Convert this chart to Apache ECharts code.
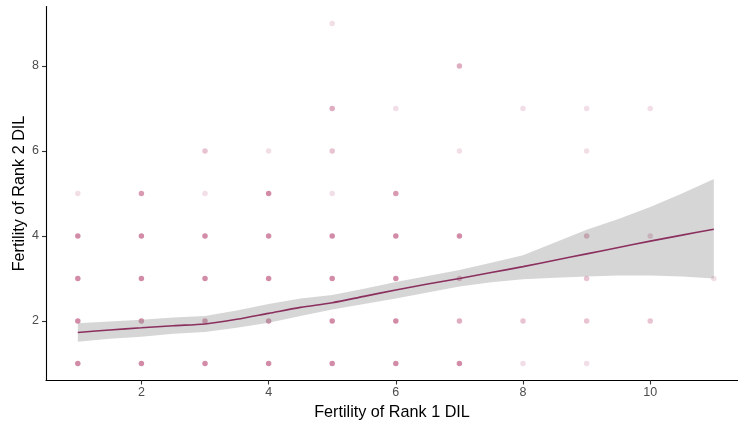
<!DOCTYPE html>
<html>
<head>
<meta charset="utf-8">
<script src="https://cdn.jsdelivr.net/npm/echarts@6/dist/echarts.min.js"></script>
<style>
  html, body { margin: 0; padding: 0; background: #ffffff; }
  #chart { width: 738px; height: 425px; }
</style>
</head>
<body>
<div id="chart"></div>
<script>
// Observed (rank 1, rank 2) fertility pairs; n = how many observations share the spot
const pointX = [1,1,1,1,1, 2,2,2,2,2, 3,3,3,3,3,3, 4,4,4,4,4,4, 5,5,5,5,5,5,5,5, 6,6,6,6,6,6, 7,7,7,7,7,7, 8,8,8, 9,9,9,9,9,9, 10,10,10, 11];
const pointY = [5,4,3,2,1, 5,4,3,2,1, 6,5,4,3,2,1, 6,5,4,3,2,1, 9,7,6,5,4,3,2,1, 7,5,4,3,2,1, 8,6,4,3,2,1, 7,2,1, 7,6,4,3,2,1, 7,4,2, 3];
const pointN = [1,5,5,5,5, 4,5,5,5,5, 2,1,5,5,5,5, 1,5,5,5,5,5, 1,3,2,1,5,5,5,5, 1,4,5,5,5,5, 3,1,5,3,3,5, 1,2,1, 1,1,3,2,2,1, 1,2,2, 1];

// LOESS fit with its 95% confidence band
const fitX     = [1,    1.5,  2,    2.5,  3,    3.5,  4,    4.5,  5,    5.5,  6,    6.5,  7,    7.5,  8,    8.5,  9,    9.5,  10,   10.5, 11];
const fitY     = [1.73, 1.79, 1.84, 1.89, 1.93, 2.04, 2.18, 2.32, 2.43, 2.58, 2.73, 2.87, 3.00, 3.14, 3.28, 3.43, 3.58, 3.73, 3.88, 4.02, 4.16];
const fitLower = [1.51, 1.58, 1.63, 1.70, 1.74, 1.84, 1.96, 2.12, 2.27, 2.40, 2.53, 2.67, 2.81, 2.91, 2.98, 3.02, 3.05, 3.07, 3.07, 3.05, 3.00];
const fitUpper = [1.95, 1.99, 2.03, 2.08, 2.12, 2.25, 2.40, 2.53, 2.61, 2.76, 2.92, 3.06, 3.20, 3.37, 3.55, 3.85, 4.15, 4.40, 4.68, 5.00, 5.34];

const xTicks = [2, 4, 6, 8, 10];
const yTicks = [2, 4, 6, 8];

const POINT_ALPHA = 0.18;
const scatterData = pointX.map((x, i) => ({
  value: [x, pointY[i]],
  itemStyle: { opacity: 1 - Math.pow(1 - POINT_ALPHA, pointN[i]) }
}));

const bandData = fitX.map((x, i) => [x, fitLower[i], fitUpper[i]]);
const lineData = fitX.map((x, i) => [x, fitY[i]]);

const chart = echarts.init(document.getElementById('chart'), null, { renderer: 'canvas' });

const axisText = { color: '#4d4d4d', fontSize: 12.5, fontFamily: 'Liberation Sans, Arial, sans-serif' };
const titleText = { color: '#000000', fontSize: 16.2, fontFamily: 'Liberation Sans, Arial, sans-serif' };

chart.setOption({
  animation: false,
  backgroundColor: '#ffffff',
  grid: { left: 46, right: 0, top: 6.5, bottom: 44.5, containLabel: false, outerBoundsMode: 'none' },
  xAxis: {
    type: 'value',
    min: 0.5,
    max: 11.38,
    name: 'Fertility of Rank 1 DIL',
    nameLocation: 'middle',
    nameGap: 24,
    nameMoveOverlap: false,
    nameTextStyle: titleText,
    splitLine: { show: false },
    axisLine: { show: true, onZero: false, lineStyle: { color: '#000000', width: 1.1 } },
    axisTick: { show: true, customValues: xTicks, length: 4, lineStyle: { color: '#333333', width: 1.1 } },
    axisLabel: Object.assign({ customValues: xTicks, margin: 6 }, axisText)
  },
  yAxis: {
    type: 'value',
    min: 0.6,
    max: 9.4,
    name: 'Fertility of Rank 2 DIL',
    nameLocation: 'middle',
    nameGap: 18,
    nameMoveOverlap: false,
    nameRotate: 90,
    nameTextStyle: titleText,
    splitLine: { show: false },
    axisLine: { show: true, onZero: false, lineStyle: { color: '#000000', width: 1.1 } },
    axisTick: { show: true, customValues: yTicks, length: 4, lineStyle: { color: '#333333', width: 1.1 } },
    axisLabel: Object.assign({ customValues: yTicks, margin: 7 }, axisText)
  },
  series: [
    {
      type: 'scatter',
      data: scatterData,
      symbol: 'circle',
      symbolSize: 5.5,
      itemStyle: { color: '#b84873' },
      z: 1
    },
    {
      type: 'custom',
      data: bandData,
      z: 2,
      renderItem: function (params, api) {
        if (params.dataIndex !== 0) return null;
        const upper = bandData.map(d => api.coord([d[0], d[2]]));
        const lower = bandData.map(d => api.coord([d[0], d[1]])).reverse();
        return {
          type: 'polygon',
          shape: { points: upper.concat(lower) },
          style: { fill: 'rgba(153,153,153,0.4)', stroke: 'none' }
        };
      },
      encode: { x: 0, y: [1, 2] }
    },
    {
      type: 'line',
      data: lineData,
      smooth: 0.3,
      showSymbol: false,
      lineStyle: { color: '#8b2f5e', width: 1.6 },
      z: 3
    }
  ]
});
</script>
</body>
</html>
